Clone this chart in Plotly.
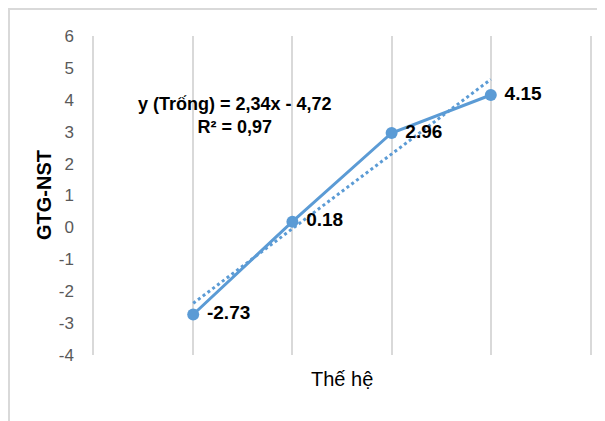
import plotly.graph_objects as go

generations = [1, 2, 3, 4]
gtg_nst = [-2.73, 0.18, 2.96, 4.15]
labels = ["-2.73", "0.18", "2.96", "4.15"]
trend_slope = 2.34
trend_intercept = -4.72
trend_x = [1, 4]
y_ticks = [-4, -3, -2, -1, 0, 1, 2, 3, 4, 5, 6]
y_tick_text = ["-4", "-3", "-2", "-1", "0", "1", "2", "3", "4", "5", "6"]

blue = "#5B9BD5"
grid = "#D9D9D9"
font_family = "Liberation Sans"

# plot area in page pixels: x 94..590, y 36..355 (page has 8px body margin)
PL, PR, PT, PB = 94, 590, 36, 355
PW, PH = PR - PL, PB - PT


def px(x):
    return (x - PL) / PW


def py(y):
    return (PB - y) / PH


fig = go.Figure()
fig.add_trace(go.Scatter(
    x=trend_x,
    y=[trend_slope * x + trend_intercept for x in trend_x],
    mode="lines",
    line=dict(color=blue, width=3, dash="dot"),
    hoverinfo="skip",
    showlegend=False,
))
fig.add_trace(go.Scatter(
    x=generations, y=gtg_nst,
    mode="lines+markers+text",
    line=dict(color=blue, width=3),
    marker=dict(color=blue, size=12),
    text=[" " + t for t in labels],
    textposition="middle right",
    textfont=dict(family=font_family, size=19, color="#000000", weight="bold"),
    showlegend=False,
))

fig.add_annotation(
    x=px(235), y=py(116), xref="paper", yref="paper",
    xanchor="center", yanchor="middle",
    text="y (Trống) = 2,34x - 4,72<br>R² = 0,97",
    showarrow=False, align="center",
    font=dict(family=font_family, size=18, color="#000000", weight="bold"),
)

fig.add_annotation(
    x=px(44), y=py(195), xref="paper", yref="paper",
    xanchor="center", yanchor="middle",
    text="GTG-NST", textangle=-90, showarrow=False,
    font=dict(family=font_family, size=20, color="#000000", weight="bold"),
)
fig.add_annotation(
    x=px(342), y=py(379), xref="paper", yref="paper",
    xanchor="center", yanchor="middle",
    text="Thế hệ", showarrow=False,
    font=dict(family=font_family, size=20, color="#000000"),
)

fig.add_shape(
    type="rect", xref="paper", yref="paper",
    x0=px(9), x1=px(620), y0=py(440), y1=py(9),
    line=dict(color=grid, width=2), fillcolor="rgba(0,0,0,0)", layer="below",
)

fig.update_layout(
    width=597, height=413,
    margin=dict(l=PL - 8, r=8 + 597 - PR, t=PT - 8, b=413 - (PT - 8) - PH, autoexpand=False),
    paper_bgcolor="white", plot_bgcolor="white",
    font=dict(family=font_family),
    xaxis=dict(
        range=[0, 5], dtick=1, tick0=0,
        showgrid=True, gridcolor=grid, gridwidth=1.5,
        showticklabels=False, zeroline=False, showline=False, ticks="",
        automargin=False,
    ),
    yaxis=dict(
        range=[-4, 6], tickvals=y_ticks, ticktext=y_tick_text,
        showgrid=False, zeroline=False,
        showline=True, mirror=True, linecolor=grid, linewidth=1.5,
        ticks="", ticklabelstandoff=15, automargin=False,
        tickfont=dict(family=font_family, size=17, color="#595959"),
    ),
)

fig.write_html("out.html")
